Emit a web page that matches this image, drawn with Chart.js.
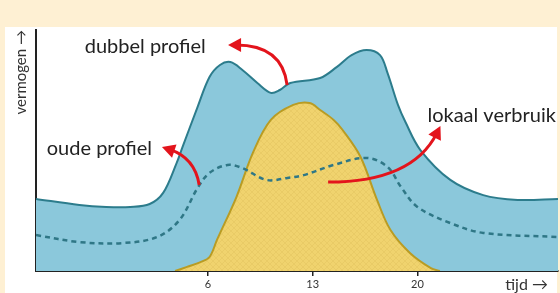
<!DOCTYPE html>
<html>
<head>
<meta charset="utf-8">
<script src="https://cdn.jsdelivr.net/npm/chart.js@4"></script>
<style>
  html, body { margin: 0; padding: 0; }
  body { width: 560px; height: 293px; background: #fef0d3; position: relative; overflow: hidden; }
  .panel { position: absolute; left: 5px; top: 27px; width: 552px; height: 266px; background: #fff; }
  canvas { position: absolute; left: 0; top: 0; }
</style>
</head>
<body>
<div class="panel"></div>
<canvas id="chart" width="560" height="293"></canvas>
<script>
// tijd (x) en vermogen (y, 0-100)
const dubbelT = [-5.5, -2.6, -0.8, 0.8, 2.1, 3.0, 3.9, 4.3, 5.3, 6.1, 6.8, 7.5, 8.3, 9.3, 10.2, 10.8, 11.5, 13.5, 14.6, 15.6, 16.6, 17.5, 18.0, 18.7, 19.2, 20.2, 22.2, 24.4, 26.7, 29.4];
const dubbelV = [29.9, 27.4, 26.6, 26.6, 27.8, 32.4, 44.8, 51.5, 68.0, 80.5, 85.5, 86.7, 83.4, 78.0, 73.9, 75.1, 78.0, 80.1, 84.6, 89.6, 91.7, 89.6, 82.2, 68.9, 61.8, 50.2, 37.8, 31.5, 29.5, 29.9];

const oudT = [-5.5, -2.6, 0.3, 2.6, 4.1, 5.3, 6.1, 7.3, 8.3, 9.9, 11.3, 12.4, 14.4, 16.6, 18.0, 18.9, 20.0, 22.2, 24.4, 29.4];
const oudV = [14.9, 12.0, 11.6, 14.1, 21.2, 34.4, 40.7, 44.0, 42.7, 37.8, 38.6, 39.8, 44.0, 46.9, 43.2, 34.9, 26.6, 19.9, 15.8, 14.1];

const lokaalT = [3.8, 4.6, 5.5, 6.1, 6.6, 7.9, 9.0, 10.2, 11.7, 12.8, 13.5, 14.4, 15.0, 16.2, 17.3, 18.2, 19.5, 20.9, 21.5];
const lokaalV = [0, 1.7, 3.7, 5.8, 12.9, 30.7, 49.0, 62.7, 68.9, 69.7, 66.8, 62.7, 58.5, 47.3, 29.5, 17.0, 7.5, 1.2, 0];

const tickValues = [6, 13, 20];

// labels and arrows, in data units
const labels = [
  { text: 'dubbel profiel', at: [-2.24, 90.5] },
  { text: 'oude profiel', at: [-4.78, 48.1] },
  { text: 'lokaal verbruik', at: [20.67, 61.8] }
];
const arrows = [
  { from: [11.29, 77.2], ctrl: [10.96, 93.8], to: [7.34, 93.8] },
  { from: [5.41, 35.7], ctrl: [5.13, 46.9], to: [2.92, 51.5] },
  { from: [14.03, 36.9], ctrl: [19.66, 36.9], to: [21.54, 60.2] }
];

const toPoints = (xs, ys) => xs.map((x, i) => ({ x: x, y: ys[i] }));

// faint cross hatching on the yellow area
function hatch() {
  const c = document.createElement('canvas');
  c.width = 6; c.height = 6;
  const g = c.getContext('2d');
  g.fillStyle = '#f0d36e';
  g.fillRect(0, 0, 6, 6);
  g.strokeStyle = 'rgba(190,150,50,0.12)';
  g.lineWidth = 1;
  g.beginPath();
  g.moveTo(0, 6); g.lineTo(6, 0);
  g.moveTo(0, 0); g.lineTo(6, 6);
  g.stroke();
  return g.createPattern(c, 'repeat');
}

const annotations = {
  id: 'annotations',
  afterDatasetsDraw(chart) {
    const { ctx, scales: { x, y }, chartArea } = chart;
    const px = p => [x.getPixelForValue(p[0]), y.getPixelForValue(p[1])];
    ctx.save();

    arrows.forEach(a => {
      const [fx, fy] = px(a.from);
      const [cx, cy] = px(a.ctrl);
      const [tx, ty] = px(a.to);
      const ang = Math.atan2(ty - cy, tx - cx);
      const ex = tx - Math.cos(ang) * 8, ey = ty - Math.sin(ang) * 8;
      ctx.strokeStyle = '#e3141c';
      ctx.lineWidth = 3;
      ctx.beginPath();
      ctx.moveTo(fx, fy);
      ctx.quadraticCurveTo(cx, cy, ex, ey);
      ctx.stroke();
      ctx.fillStyle = '#e3141c';
      ctx.beginPath();
      ctx.moveTo(tx, ty);
      ctx.lineTo(tx - Math.cos(ang) * 13 + Math.sin(ang) * 7, ty - Math.sin(ang) * 13 - Math.cos(ang) * 7);
      ctx.lineTo(tx - Math.cos(ang) * 13 - Math.sin(ang) * 7, ty - Math.sin(ang) * 13 + Math.cos(ang) * 7);
      ctx.closePath();
      ctx.fill();
    });

    ctx.fillStyle = '#222';
    ctx.font = '20px Lato';
    ctx.textBaseline = 'alphabetic';
    ctx.textAlign = 'left';
    labels.forEach(l => {
      const [lx, ly] = px(l.at);
      ctx.fillText(l.text, lx, ly);
    });

    ctx.font = '16px Lato';
    ctx.fillStyle = '#333';
    ctx.textAlign = 'right';
    ctx.fillText('tijd \u2192', chartArea.right - 10, chartArea.bottom + 19);
    ctx.restore();
  }
};

new Chart(document.getElementById('chart'), {
  type: 'line',
  data: {
    datasets: [
      {
        label: 'oude profiel',
        data: toPoints(oudT, oudV),
        borderColor: '#2f7786',
        borderWidth: 2.5,
        borderDash: [5, 4],
        fill: false,
        pointRadius: 0,
        tension: 0.35,
        order: 0
      },
      {
        label: 'lokaal verbruik',
        data: toPoints(lokaalT, lokaalV),
        borderColor: '#b99c23',
        borderWidth: 2,
        backgroundColor: hatch(),
        fill: 'origin',
        pointRadius: 0,
        tension: 0.35,
        order: 1
      },
      {
        label: 'dubbel profiel',
        data: toPoints(dubbelT, dubbelV),
        borderColor: '#2c7c8c',
        borderWidth: 2,
        backgroundColor: '#8bc8db',
        fill: 'origin',
        pointRadius: 0,
        tension: 0.35,
        order: 2
      }
    ]
  },
  options: {
    responsive: false,
    devicePixelRatio: 1,
    animation: false,
    events: [],
    layout: { padding: { top: 30, right: 2, left: 0, bottom: 0 } },
    plugins: {
      legend: { display: false },
      tooltip: { enabled: false }
    },
    scales: {
      x: {
        type: 'linear',
        min: -5.5,
        max: 29.4,
        afterBuildTicks: s => { s.ticks = tickValues.map(v => ({ value: v })); },
        afterFit: s => { s.height = 22; },
        ticks: { color: '#333', font: { family: 'Lato', size: 11 }, padding: 2 },
        grid: { drawOnChartArea: false, color: '#222', tickLength: 5, lineWidth: 1.5 },
        border: { color: '#222', width: 2 }
      },
      y: {
        min: 0,
        max: 100,
        afterFit: s => { s.width = 36; },
        ticks: { display: false },
        grid: { drawOnChartArea: false, drawTicks: false },
        border: { color: '#222', width: 2 },
        title: {
          display: true,
          text: 'vermogen \u2192',
          align: 'end',
          color: '#333',
          font: { family: 'Lato', size: 15 },
          padding: { top: 12, bottom: 0 }
        }
      }
    }
  },
  plugins: [annotations]
});
</script>
</body>
</html>
